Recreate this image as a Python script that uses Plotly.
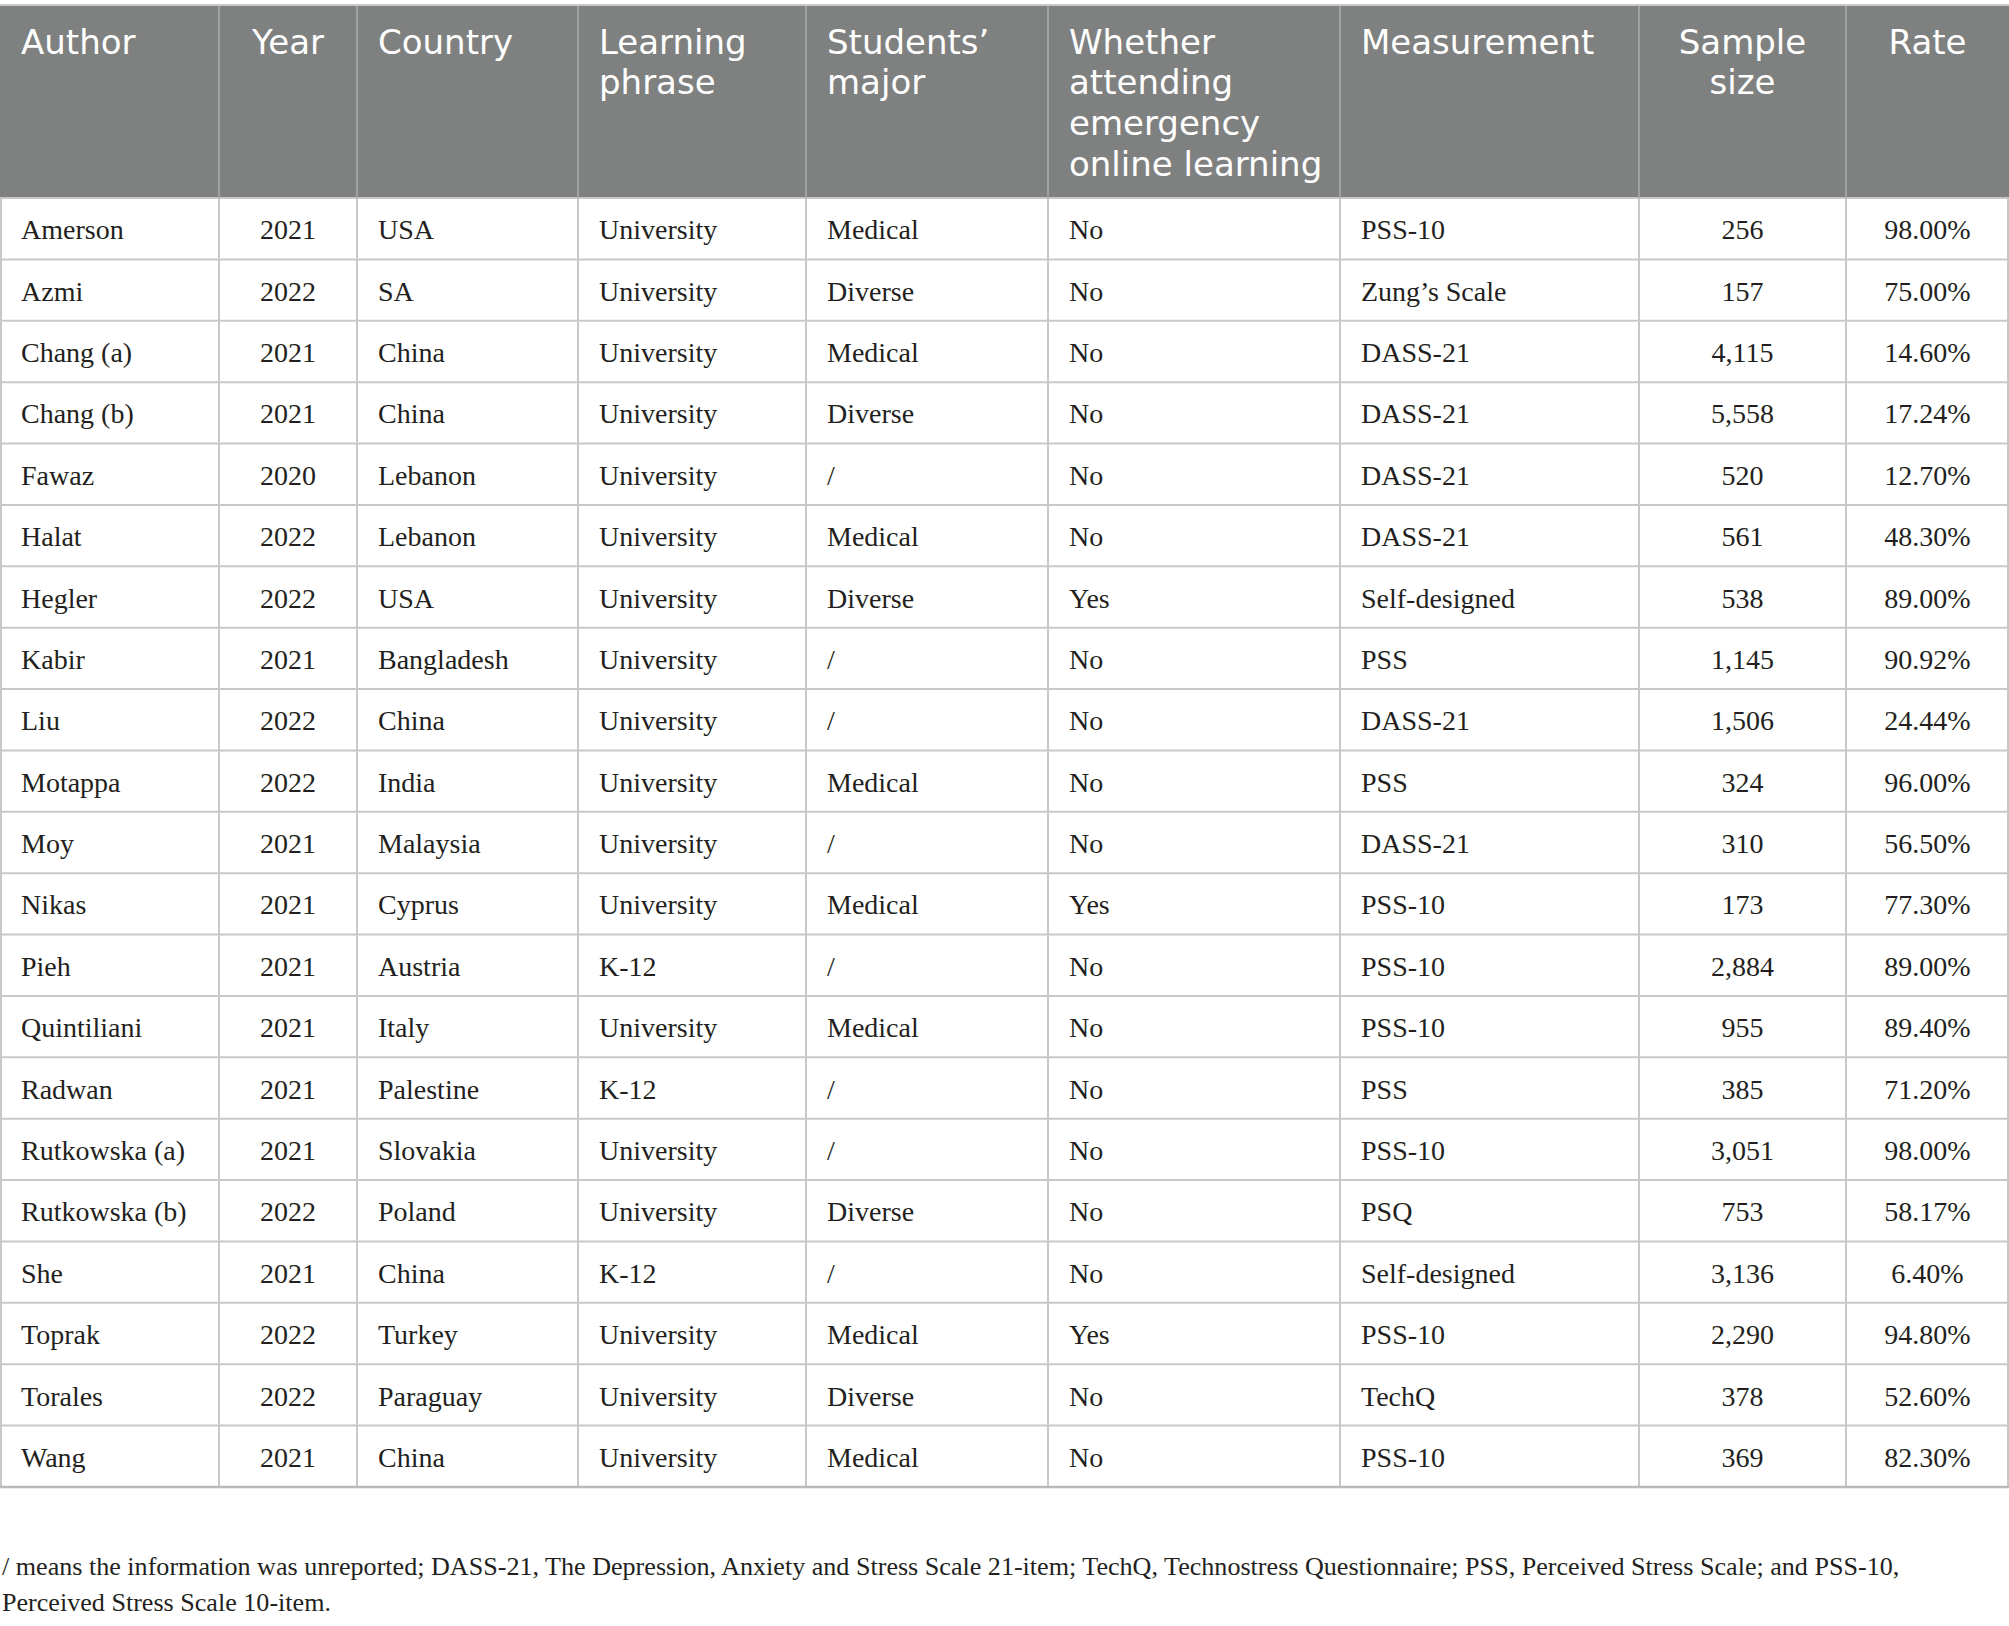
import plotly.graph_objects as go

# column headers (line breaks as in the source table)
headers = [
    "Author", "Year", "Country", "Learning<br>phrase", "Students’<br>major",
    "Whether<br>attending<br>emergency<br>online learning",
    "Measurement", "Sample<br>size", "Rate",
]

# table values
authors = [
    "Amerson", "Azmi", "Chang (a)", "Chang (b)", "Fawaz", "Halat", "Hegler",
    "Kabir", "Liu", "Motappa", "Moy", "Nikas", "Pieh", "Quintiliani", "Radwan",
    "Rutkowska (a)", "Rutkowska (b)", "She", "Toprak", "Torales", "Wang",
]
years = [
    2021, 2022, 2021, 2021, 2020, 2022, 2022, 2021, 2022, 2022, 2021,
    2021, 2021, 2021, 2021, 2021, 2022, 2021, 2022, 2022, 2021,
]
countries = [
    "USA", "SA", "China", "China", "Lebanon", "Lebanon", "USA", "Bangladesh",
    "China", "India", "Malaysia", "Cyprus", "Austria", "Italy", "Palestine",
    "Slovakia", "Poland", "China", "Turkey", "Paraguay", "China",
]
phases = [
    "University", "University", "University", "University", "University",
    "University", "University", "University", "University", "University",
    "University", "University", "K-12", "University", "K-12", "University",
    "University", "K-12", "University", "University", "University",
]
majors = [
    "Medical", "Diverse", "Medical", "Diverse", "/", "Medical", "Diverse", "/",
    "/", "Medical", "/", "Medical", "/", "Medical", "/", "/", "Diverse", "/",
    "Medical", "Diverse", "Medical",
]
online = [
    "No", "No", "No", "No", "No", "No", "Yes", "No", "No", "No", "No", "Yes",
    "No", "No", "No", "No", "No", "No", "Yes", "No", "No",
]
measures = [
    "PSS-10", "Zung’s Scale", "DASS-21", "DASS-21", "DASS-21", "DASS-21",
    "Self-designed", "PSS", "DASS-21", "PSS", "DASS-21", "PSS-10", "PSS-10",
    "PSS-10", "PSS", "PSS-10", "PSQ", "Self-designed", "PSS-10", "TechQ",
    "PSS-10",
]
sample_sizes = [
    256, 157, 4115, 5558, 520, 561, 538, 1145, 1506, 324, 310, 173, 2884,
    955, 385, 3051, 753, 3136, 2290, 378, 369,
]
rates = [
    98.00, 75.00, 14.60, 17.24, 12.70, 48.30, 89.00, 90.92, 24.44, 96.00,
    56.50, 77.30, 89.00, 89.40, 71.20, 98.00, 58.17, 6.40, 94.80, 52.60,
    82.30,
]

footnote_lines = [
    "/ means the information was unreported; DASS-21, The Depression, Anxiety and "
    "Stress Scale 21-item; TechQ, Technostress Questionnaire; PSS, Perceived Stress "
    "Scale; and PSS-10,",
    "Perceived Stress Scale 10-item.",
]

# layout of the grid (pixels)
W, H = 2009, 1626
col_widths = [219, 138, 221, 228, 242, 292, 299, 207, 163]
centered = [False, True, False, False, False, False, False, True, True]
TOP, HEAD_BOTTOM, TABLE_BOTTOM = 5, 198, 1487
PAD = 21
HEAD_FS = 34           # glyph size in the header
HEAD_LINE_FS = 31.3    # sets the header line spacing (1.3 em)
BODY_FS, NOTE_FS = 28, 26.1
HEAD_BASE = 53.5       # baseline of the first header line
BODY_BASE = 41.3       # baseline below the top of each row
NOTE_BASE = [1575, 1611]

HEADER_BG = "#7f8180"
GRID = "#c8c8c8"
HEAD_GRID = "#a0a2a1"
TEXT = "#231f20"
SERIF = "Liberation Serif, Times New Roman, serif"
SANS = "DejaVu Sans, Open Sans, sans-serif"

columns = [
    authors,
    [str(y) for y in years],
    countries,
    phases,
    majors,
    online,
    measures,
    [f"{n:,}" for n in sample_sizes],
    [f"{r:.2f}%" for r in rates],
]

edges = [0]
for w in col_widths:
    edges.append(edges[-1] + w)
n_rows = len(authors)
row_h = (TABLE_BOTTOM - HEAD_BOTTOM) / n_rows
row_edges = [HEAD_BOTTOM + i * row_h for i in range(n_rows + 1)]


def anchor_x(c, v="middle"):
    if centered[c]:
        return (edges[c] + edges[c + 1]) / 2, v + " center"
    return edges[c] + PAD, v + " right"


fig = go.Figure()

# header background
fig.add_trace(go.Scatter(
    x=[0, W, W, 0, 0], y=[TOP, TOP, HEAD_BOTTOM, HEAD_BOTTOM, TOP],
    mode="lines", fill="toself", fillcolor=HEADER_BG,
    line=dict(width=0), hoverinfo="skip",
))

# body grid lines
gx, gy = [], []
for y in row_edges[:-1]:
    gx += [0, W, None]
    gy += [y, y, None]
for x in edges[:-1] + [W - 1]:
    gx += [max(x, 1), max(x, 1), None]
    gy += [HEAD_BOTTOM, TABLE_BOTTOM, None]
gx += [0, W, None]
gy += [TOP, TOP, None]
fig.add_trace(go.Scatter(x=gx, y=gy, mode="lines",
                         line=dict(color=GRID, width=2), hoverinfo="skip"))

# bottom rule
fig.add_trace(go.Scatter(x=[0, W], y=[TABLE_BOTTOM, TABLE_BOTTOM], mode="lines",
                         line=dict(color="#b9b9b9", width=2.5), hoverinfo="skip"))

# header dividers
hx, hy = [], []
for x in edges[1:-1]:
    hx += [x, x, None]
    hy += [TOP + 1, HEAD_BOTTOM, None]
fig.add_trace(go.Scatter(x=hx, y=hy, mode="lines",
                         line=dict(color=HEAD_GRID, width=2), hoverinfo="skip"))

# header text: one text per header, tight line spacing
tx, tt, tp = [], [], []
for c, head in enumerate(headers):
    x, pos = anchor_x(c, "bottom")
    tx.append(x)
    tt.append("<br>".join(
        f'<span style="font-size:{HEAD_FS}px">{line}</span>'
        for line in head.split("<br>")
    ))
    tp.append(pos)
fig.add_trace(go.Scatter(
    x=tx, y=[HEAD_BASE - 0.75 * HEAD_LINE_FS] * len(tx), text=tt,
    mode="text", textposition=tp,
    textfont=dict(family=SANS, size=HEAD_LINE_FS, color="white"),
    hoverinfo="skip",
))

# body text
bx, by, bt, bp = [], [], [], []
for c, col in enumerate(columns):
    x, pos = anchor_x(c)
    for r, val in enumerate(col):
        bx.append(x)
        by.append(row_edges[r] + BODY_BASE - 0.25 * BODY_FS)
        bt.append(val)
        bp.append(pos)
fig.add_trace(go.Scatter(
    x=bx, y=by, text=bt, mode="text", textposition=bp,
    textfont=dict(family=SERIF, size=BODY_FS, color=TEXT), hoverinfo="skip",
))

# footnote
fig.add_trace(go.Scatter(
    x=[2] * len(footnote_lines),
    y=[b - 0.25 * NOTE_FS for b in NOTE_BASE],
    text=footnote_lines, mode="text", textposition="middle right",
    textfont=dict(family=SERIF, size=NOTE_FS, color=TEXT), hoverinfo="skip",
))

fig.update_xaxes(range=[0, W], visible=False, fixedrange=True)
fig.update_yaxes(range=[H, 0], visible=False, fixedrange=True)
fig.update_layout(
    width=W, height=H,
    margin=dict(l=0, r=0, t=0, b=0),
    paper_bgcolor="white", plot_bgcolor="white",
    showlegend=False,
)

fig.write_html(
    "out.html",
    config={"displayModeBar": False},
    post_script="document.body.style.margin='0';",
)
